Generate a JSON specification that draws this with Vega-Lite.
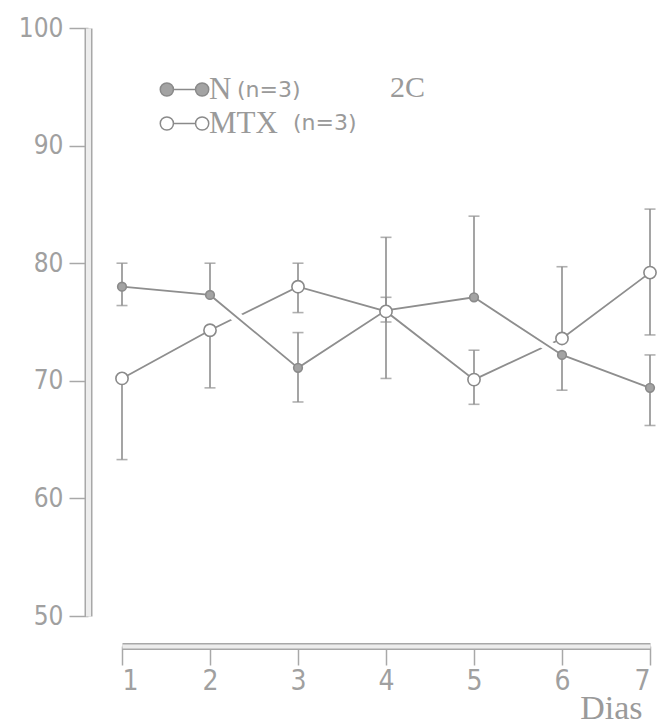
{
  "$schema": "https://vega.github.io/schema/vega-lite/v6.json",
  "width": 528,
  "height": 588,
  "autosize": {"type": "none"},
  "padding": {"left": 122, "top": 28, "right": 10, "bottom": 109},
  "background": "white",
  "title": {"text": "2C", "anchor": "start", "frame": "group", "dx": 268, "dy": 92, "font": "Liberation Serif", "fontSize": 30, "fontWeight": "normal", "color": "#9a9a9a"},
  "config": {"view": {"stroke": null}, "axis": {"grid": false}},
  "datasets": {
    "pts": [
      {"series": "N", "nlab": "N (n=3)", "day": 1, "value": 78.0},
      {"series": "N", "nlab": "N (n=3)", "day": 2, "value": 77.3},
      {"series": "N", "nlab": "N (n=3)", "day": 3, "value": 71.1},
      {"series": "N", "nlab": "N (n=3)", "day": 4, "value": 76.0},
      {"series": "N", "nlab": "N (n=3)", "day": 5, "value": 77.1},
      {"series": "N", "nlab": "N (n=3)", "day": 6, "value": 72.2},
      {"series": "N", "nlab": "N (n=3)", "day": 7, "value": 69.4},
      {"series": "MTX", "nlab": "MTX (n=3)", "day": 1, "value": 70.2},
      {"series": "MTX", "nlab": "MTX (n=3)", "day": 2, "value": 74.3},
      {"series": "MTX", "nlab": "MTX (n=3)", "day": 3, "value": 78.0},
      {"series": "MTX", "nlab": "MTX (n=3)", "day": 4, "value": 75.9},
      {"series": "MTX", "nlab": "MTX (n=3)", "day": 5, "value": 70.1},
      {"series": "MTX", "nlab": "MTX (n=3)", "day": 6, "value": 73.6},
      {"series": "MTX", "nlab": "MTX (n=3)", "day": 7, "value": 79.2}
    ],
    "err": [
      {"series": "N", "day": 1, "value": 78.0, "lo": 76.4, "hi": 80.0},
      {"series": "N", "day": 2, "value": 77.3, "lo": 77.3, "hi": 80.0},
      {"series": "N", "day": 3, "value": 71.1, "lo": 68.2, "hi": 74.1},
      {"series": "N", "day": 4, "value": 76.0, "lo": 75.0, "hi": 77.1},
      {"series": "N", "day": 5, "value": 77.1, "lo": 77.1, "hi": 84.0},
      {"series": "N", "day": 6, "value": 72.2, "lo": 69.2, "hi": 72.2},
      {"series": "N", "day": 7, "value": 69.4, "lo": 66.2, "hi": 72.2},
      {"series": "MTX", "day": 1, "value": 70.2, "lo": 63.3, "hi": 70.2},
      {"series": "MTX", "day": 2, "value": 74.3, "lo": 69.4, "hi": 74.3},
      {"series": "MTX", "day": 3, "value": 78.0, "lo": 75.8, "hi": 80.0},
      {"series": "MTX", "day": 4, "value": 75.9, "lo": 70.2, "hi": 82.2},
      {"series": "MTX", "day": 5, "value": 70.1, "lo": 68.0, "hi": 72.6},
      {"series": "MTX", "day": 6, "value": 73.6, "lo": 73.6, "hi": 79.7},
      {"series": "MTX", "day": 7, "value": 79.2, "lo": 73.9, "hi": 84.6}
    ]
  },
  "layer": [
    {
      "data": {"name": "pts"},
      "transform": [{"filter": "datum.series == 'MTX'"}],
      "mark": {"type": "line", "color": "#8e8e8e", "strokeWidth": 1.8},
      "encoding": {
        "x": {"field": "day", "type": "quantitative", "scale": {"domain": [1, 7], "nice": false, "zero": false},
          "axis": {"orient": "bottom", "offset": 30, "values": [1, 2, 3, 4, 5, 6, 7], "format": "d", "title": "Dias",
            "domainColor": "#a8a8a8", "domainWidth": 7, "domainCap": "butt", "tickColor": "#a8a8a8", "tickWidth": 1.5, "tickSize": 19,
            "labelFont": "DejaVu Sans Condensed", "labelFontSize": 28, "labelColor": "#a0a0a0", "labelPadding": 2,
            "titleFont": "Liberation Serif", "titleFontSize": 34, "titleFontWeight": "normal", "titleColor": "#9a9a9a",
            "titleX": 520, "titleY": 72, "titleAlign": "right", "titleBaseline": "alphabetic", "titleAnchor": null}},
        "y": {"field": "value", "type": "quantitative", "scale": {"domain": [50, 100], "nice": false, "zero": false},
          "axis": {"orient": "left", "offset": 34, "values": [50, 60, 70, 80, 90, 100], "title": null,
            "domainColor": "#a8a8a8", "domainWidth": 8, "domainCap": "butt", "tickColor": "#a8a8a8", "tickWidth": 1.5, "tickSize": 19,
            "labelFont": "DejaVu Sans Condensed", "labelFontSize": 26, "labelColor": "#a0a0a0", "labelPadding": 6}}
      }
    },
    {
      "data": {"name": "pts"},
      "transform": [{"filter": "datum.series == 'N' && (datum.day == 2 || datum.day == 3)"}],
      "mark": {"type": "line", "color": "white", "strokeWidth": 11},
      "encoding": {
        "x": {"field": "day", "type": "quantitative",
          "axis": {"orient": "bottom", "offset": 30, "domainColor": "#ededed", "domainWidth": 4, "domainCap": "butt", "ticks": false, "labels": false, "title": null}},
        "y": {"field": "value", "type": "quantitative",
          "axis": {"orient": "left", "offset": 34, "domainColor": "#ededed", "domainWidth": 5, "domainCap": "butt", "ticks": false, "labels": false, "title": null}}
      }
    },
    {
      "data": {"name": "pts"},
      "transform": [{"filter": "datum.series == 'N' && (datum.day == 5 || datum.day == 6)"}],
      "mark": {"type": "line", "color": "white", "strokeWidth": 11},
      "encoding": {
        "x": {"field": "day", "type": "quantitative", "axis": null},
        "y": {"field": "value", "type": "quantitative", "axis": null}
      }
    },
    {
      "data": {"name": "pts"},
      "transform": [{"filter": "datum.series == 'N'"}],
      "mark": {"type": "line", "color": "#8e8e8e", "strokeWidth": 1.8},
      "encoding": {
        "x": {"field": "day", "type": "quantitative", "axis": null},
        "y": {"field": "value", "type": "quantitative", "axis": null}
      }
    },
    {
      "data": {"name": "err"},
      "mark": {"type": "rule", "color": "#8e8e8e", "strokeWidth": 1.6},
      "encoding": {
        "x": {"field": "day", "type": "quantitative", "axis": null},
        "y": {"field": "lo", "type": "quantitative", "axis": null},
        "y2": {"field": "hi"}
      }
    },
    {
      "data": {"name": "err"},
      "transform": [
        {"fold": ["lo", "hi"], "as": ["end", "v"]},
        {"filter": "datum.v != datum.value"}
      ],
      "mark": {"type": "tick", "orient": "horizontal", "color": "#8e8e8e", "size": 11, "thickness": 1.6},
      "encoding": {
        "x": {"field": "day", "type": "quantitative", "axis": null},
        "y": {"field": "v", "type": "quantitative", "axis": null}
      }
    },
    {
      "data": {"name": "pts"},
      "mark": {"type": "point", "filled": false, "strokeWidth": 1.6, "stroke": "#8a8a8a", "opacity": 1},
      "encoding": {
        "x": {"field": "day", "type": "quantitative", "axis": null},
        "y": {"field": "value", "type": "quantitative", "axis": null},
        "fill": {"field": "series", "type": "nominal",
          "scale": {"domain": ["N", "MTX"], "range": ["#a3a3a3", "#ffffff"]},
          "legend": {"orient": "none", "legendX": 47, "legendY": 46, "title": null,
            "symbolType": "M-2.02,0A0.55,0.55,0,1,0,-0.92,0A0.55,0.55,0,1,0,-2.02,0ZM-0.92,0L0.92,0M0.92,0A0.55,0.55,0,1,0,2.02,0A0.55,0.55,0,1,0,0.92,0Z",
            "symbolSize": 576, "symbolStrokeColor": "#8a8a8a", "symbolStrokeWidth": 1.5, "symbolOpacity": 1,
            "labelFont": "Liberation Serif", "labelFontSize": 31, "labelColor": "#9a9a9a", "labelOffset": 9, "rowPadding": 2}},
        "shape": {"field": "nlab", "type": "nominal",
          "scale": {"domain": ["N (n=3)", "MTX (n=3)"], "range": ["circle", "circle"]},
          "legend": {"orient": "none", "legendX": 93, "legendY": 51, "title": null,
            "symbolOpacity": 0, "symbolSize": 1, "symbolStrokeWidth": 0, "labelOffset": 0,
            "labelExpr": "datum.label == 'N (n=3)' ? '(n=3)' : '\u200b\u00a0\u00a0\u00a0\u00a0\u00a0\u00a0\u00a0\u00a0(n=3)'",
            "labelFont": "DejaVu Sans", "labelFontSize": 22, "labelColor": "#9a9a9a", "rowPadding": 11}},
        "size": {"condition": {"test": "datum.series == 'N'", "value": 75}, "value": 150}
      }
    }
  ],
  "resolve": {"axis": {"x": "independent", "y": "independent"}}
}
